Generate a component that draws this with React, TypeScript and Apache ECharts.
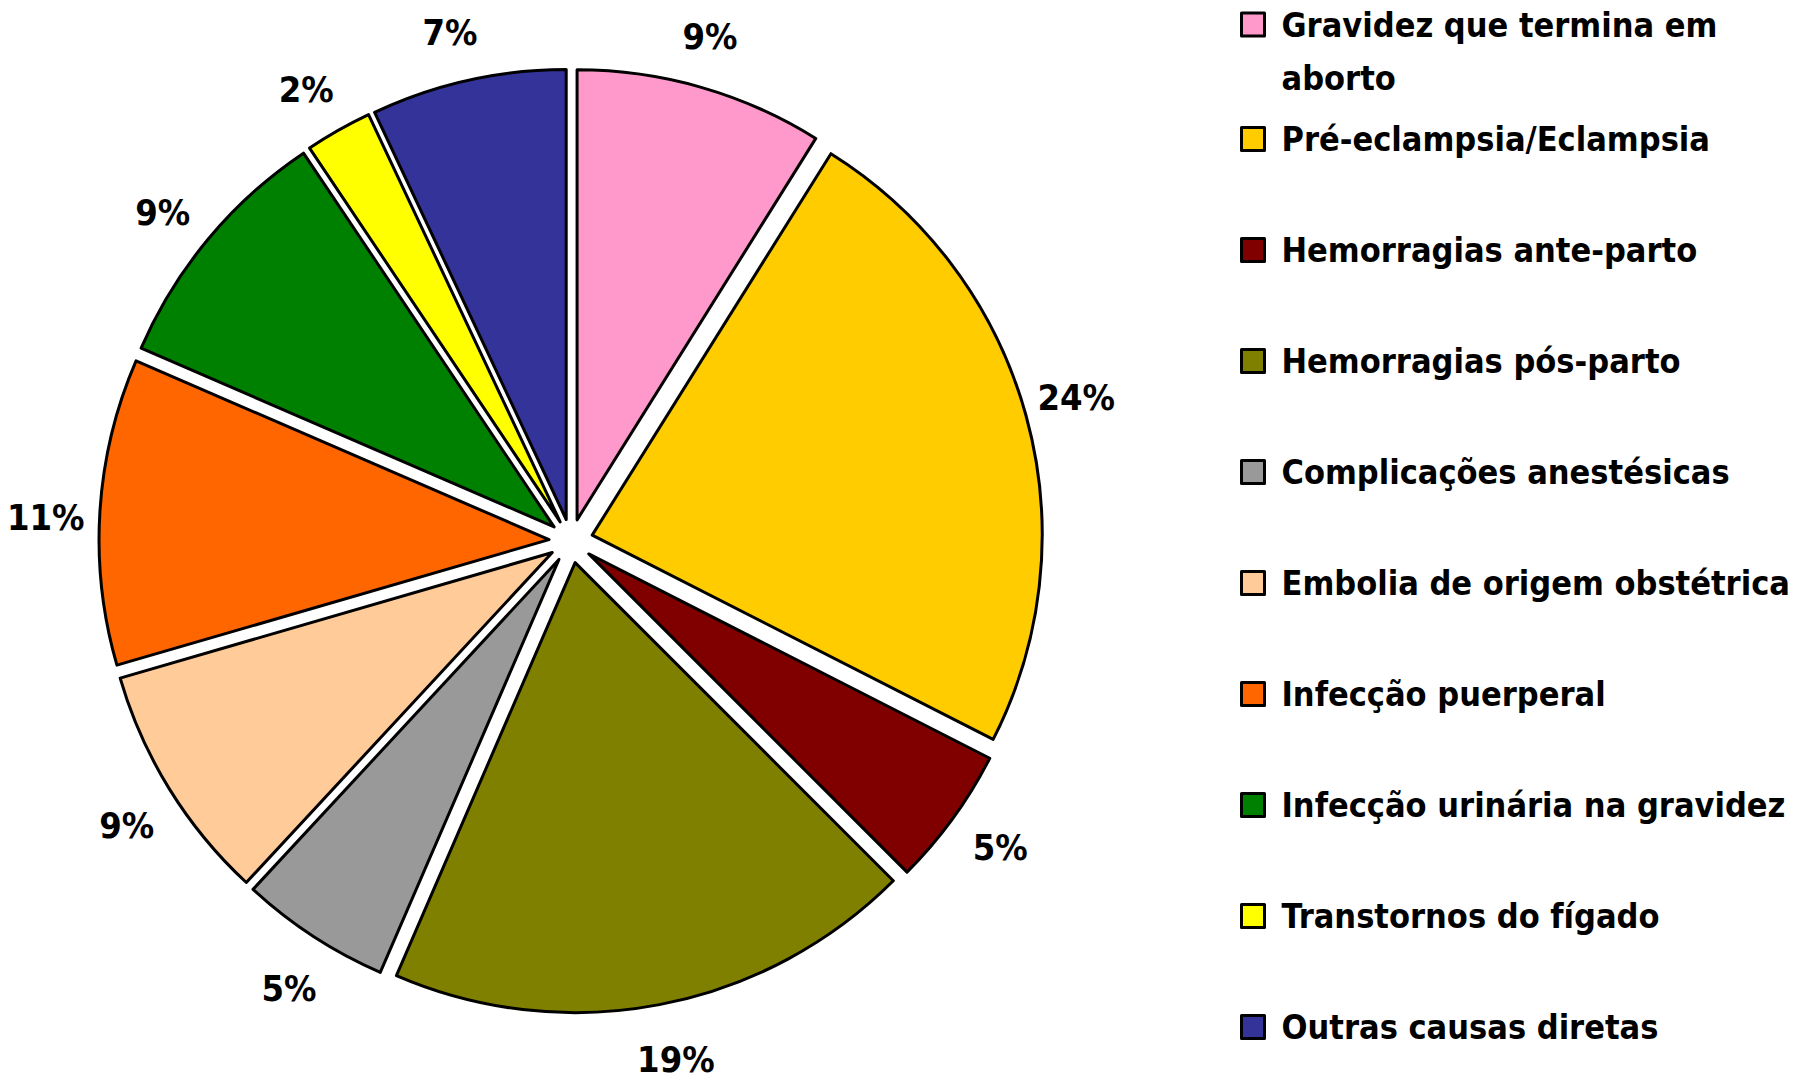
import React, { useEffect, useRef } from "react";
import * as echarts from "echarts";

const categories = [
  "Gravidez que termina em aborto",
  "Pré-eclampsia/Eclampsia",
  "Hemorragias ante-parto",
  "Hemorragias pós-parto",
  "Complicações anestésicas",
  "Embolia de origem obstétrica",
  "Infecção puerperal",
  "Infecção urinária na gravidez",
  "Transtornos do fígado",
  "Outras causas diretas",
];
const values = [8.9, 23.6, 5.0, 19.0, 5.4, 8.6, 11.0, 9.1, 2.4, 7.0];
const colors = [
  "#FF99CC",
  "#FFCC00",
  "#800000",
  "#808000",
  "#999999",
  "#FFCC99",
  "#FF6600",
  "#008000",
  "#FFFF00",
  "#333399",
];

const FONT = '"Liberation Sans Narrow", "Arial Narrow", "DejaVu Sans Condensed", sans-serif';

export default function App() {
  const ref = useRef<HTMLDivElement>(null);
  useEffect(() => {
    document.body.style.margin = "0";
    const chart = echarts.init(ref.current!, null, { renderer: "svg" });
    const mainData = categories.map((name, i) => ({
      name,
      value: values[i],
      selected: true,
      itemStyle: { color: colors[i] },
    }));
    const ghostData = categories.map((name, i) => ({
      name,
      value: values[i],
    }));
    const legendText = {
      fontSize: 34,
      fontWeight: "bold",
      fontFamily: FONT,
      color: "#000",
      lineHeight: 46,
    };
    chart.setOption({
      animation: false,
      backgroundColor: "#ffffff",
      legend: [
        {
          data: [categories[0]],
          orient: "vertical",
          left: 1240,
          top: -55,
          padding: 0,
          icon: "rect",
          itemWidth: 23,
          itemHeight: 23,
          selectedMode: false,
          itemStyle: { borderColor: "#000", borderWidth: 3 },
          formatter: (n: string) => "\u00a0\n" + n.replace(" em aborto", " em\naborto"),
          textStyle: {
            ...legendText,
            lineHeight: 53,
            padding: [0, 0, 0, 12],
            backgroundColor: "rgba(255,255,255,0)",
          },
        },
        {
          data: categories.slice(1),
          orient: "vertical",
          left: 1240,
          top: 116,
          padding: 0,
          itemGap: 65,
          icon: "rect",
          itemWidth: 23,
          itemHeight: 23,
          selectedMode: false,
          itemStyle: { borderColor: "#000", borderWidth: 3 },
          textStyle: { ...legendText, padding: [0, 0, 0, 12] },
        },
      ],
      series: [
        {
          type: "pie",
          center: [571, 541],
          radius: 450,
          startAngle: 90,
          clockwise: true,
          selectedMode: "multiple",
          selectedOffset: 22,
          silent: true,
          avoidLabelOverlap: false,
          label: { show: false },
          labelLine: { show: false },
          emphasis: { disabled: true },
          itemStyle: { borderColor: "#000", borderWidth: 3 },
          data: mainData,
        },
        {
          type: "pie",
          center: [571, 544],
          radius: [498, 548],
          startAngle: 90.7,
          clockwise: true,
          silent: true,
          avoidLabelOverlap: false,
          emphasis: { disabled: true },
          itemStyle: { color: "rgba(0,0,0,0)", borderWidth: 0 },
          labelLine: { show: false },
          label: {
            show: true,
            position: "inside",
            formatter: (p: any) => `${Math.round(p.percent)}%`,
            fontSize: 36,
            fontWeight: "bold",
            fontFamily: FONT,
            color: "#000",
          },
          data: ghostData,
        },
      ],
    });
    return () => chart.dispose();
  }, []);
  return (
    <div
      ref={ref}
      style={{ position: "fixed", left: 0, top: 0, width: 1800, height: 1080 }}
    />
  );
}
